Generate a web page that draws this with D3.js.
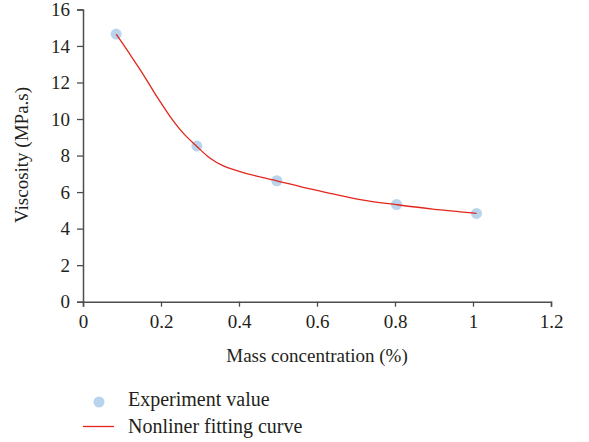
<!DOCTYPE html>
<html>
<head>
<meta charset="utf-8">
<script src="https://cdn.jsdelivr.net/npm/d3@7"></script>
<style>
  body { margin: 0; background: #fff; }
  svg text { font-family: "Liberation Serif", "DejaVu Serif", serif; fill: #231f20; }
</style>
</head>
<body>
<script>
// experiment points
var massX = [0.085, 0.292, 0.497, 0.804, 1.009];
var viscY = [14.65, 8.52, 6.62, 5.32, 4.83];

// fitted curve
var fitX = [0.085, 0.121, 0.155, 0.189, 0.223, 0.257, 0.292, 0.326, 0.36, 0.411, 0.497, 0.582, 0.641, 0.727, 0.804, 0.897, 1.009];
var fitY = [14.65, 13.52, 12.42, 11.24, 10.15, 9.23, 8.5, 7.85, 7.43, 7.06, 6.62, 6.17, 5.9, 5.53, 5.31, 5.07, 4.84];

var xTicks = [0, 0.2, 0.4, 0.6, 0.8, 1, 1.2];
var yTicks = [0, 2, 4, 6, 8, 10, 12, 14, 16];

var svg = d3.select("body").append("svg")
    .attr("width", 589)
    .attr("height", 442);

var x = d3.scaleLinear().domain([0, 1.2]).range([83, 551]);
var y = d3.scaleLinear().domain([0, 16]).range([301.7, 9.4]);

var axisColor = "#4d4d4f";
var fs = "19px";
var ff = "'Liberation Serif', 'DejaVu Serif', serif";

// x axis
var gx = svg.append("g")
    .attr("transform", "translate(0," + y(0) + ")")
    .call(d3.axisBottom(x).tickValues(xTicks).tickSizeOuter(0).tickSize(5).tickPadding(8)
        .tickFormat(function(d) { return d3.format("")(d); }));
gx.attr("font-family", null).attr("font-size", null);
gx.select(".domain").attr("stroke", axisColor).attr("stroke-width", 1.5);
gx.selectAll(".tick line").attr("stroke", axisColor).attr("stroke-width", 1.3);
gx.selectAll("text").style("font-size", fs).style("font-family", ff);

// y axis
var gy = svg.append("g")
    .attr("transform", "translate(" + x(0) + ",0)")
    .call(d3.axisLeft(y).tickValues(yTicks).tickSizeOuter(0).tickSize(6).tickPadding(7));
gy.attr("font-family", null).attr("font-size", null);
gy.select(".domain").attr("stroke", axisColor).attr("stroke-width", 1.5);
gy.selectAll(".tick line").attr("stroke", axisColor).attr("stroke-width", 1.3);
gy.selectAll("text").style("font-size", fs).style("font-family", ff);

// axis titles
svg.append("text")
    .attr("x", 317)
    .attr("y", 362)
    .attr("text-anchor", "middle")
    .style("font-size", fs)
    .text("Mass concentration (%)");

svg.append("text")
    .attr("transform", "translate(28,155) rotate(-90)")
    .attr("text-anchor", "middle")
    .style("font-size", fs)
    .text("Viscosity (MPa.s)");

// points
var pts = massX.map(function(d, i) { return { x: d, y: viscY[i] }; });
svg.selectAll("circle.pt")
    .data(pts)
    .enter()
    .append("circle")
    .attr("class", "pt")
    .attr("cx", function(d) { return x(d.x); })
    .attr("cy", function(d) { return y(d.y); })
    .attr("r", 5.5)
    .attr("fill", "#b9d5ee");

// fitted curve
var fit = fitX.map(function(d, i) { return [d, fitY[i]]; });
var line = d3.line()
    .x(function(d) { return x(d[0]); })
    .y(function(d) { return y(d[1]); })
    .curve(d3.curveCatmullRom.alpha(0.5));
svg.append("path")
    .datum(fit)
    .attr("d", line)
    .attr("fill", "none")
    .attr("stroke", "#e3261d")
    .attr("stroke-width", 1.3);

// legend
svg.append("circle")
    .attr("cx", 99)
    .attr("cy", 402)
    .attr("r", 5.5)
    .attr("fill", "#b9d5ee");
svg.append("text")
    .attr("x", 128)
    .attr("y", 406)
    .style("font-size", "20px")
    .text("Experiment value");
svg.append("line")
    .attr("x1", 83).attr("x2", 114)
    .attr("y1", 426.5).attr("y2", 426.5)
    .attr("stroke", "#e3261d")
    .attr("stroke-width", 1.3);
svg.append("text")
    .attr("x", 128)
    .attr("y", 433)
    .style("font-size", "20px")
    .text("Nonliner fitting curve");
</script>
</body>
</html>
